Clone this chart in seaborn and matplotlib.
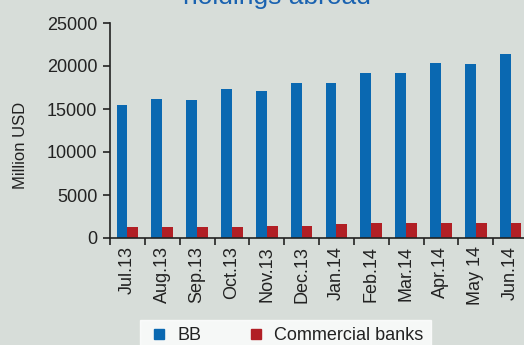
import matplotlib
matplotlib.use("Agg")
import matplotlib.pyplot as plt
import seaborn as sns
import pandas as pd
import numpy as np
from matplotlib.lines import Line2D

months = ["Jul.13", "Aug.13", "Sep.13", "Oct.13", "Nov.13", "Dec.13",
          "Jan.14", "Feb.14", "Mar.14", "Apr.14", "May 14", "Jun.14"]
bb = [15450, 16150, 16050, 17330, 17100, 18020, 18020, 19190, 19190, 20350, 20230, 21400]
commercial = [1280, 1280, 1280, 1280, 1400, 1400, 1630, 1750, 1750, 1750, 1750, 1750]
series = ["BB", "Commercial banks"]
colors = ["#0a68b1", "#b11f25"]
yticks = [0, 5000, 10000, 15000, 20000, 25000]

df = pd.DataFrame({
    "month": months * 2,
    "value": bb + commercial,
    "series": [series[0]] * len(months) + [series[1]] * len(months),
})

sns.set_theme(style="ticks")
plt.rcParams['font.family'] = ['Liberation Sans', 'DejaVu Sans']
bg = "#d7ddd9"

fig = plt.figure(figsize=(5.24, 3.45), dpi=100, facecolor=bg)
ax = fig.add_axes([110/524, 1-238/345, 418/524, 215/345])
ax.set_facecolor(bg)

sns.barplot(data=df, x="month", y="value", hue="series", order=months,
            hue_order=series, palette=colors, width=0.62, saturation=1,
            dodge=True, ax=ax, legend=False, linewidth=0, edgecolor="none")

ax.set_xlim(-0.5, len(months) - 0.5)
ax.set_ylim(0, 25000)
ax.set_yticks(yticks)
ax.set_yticklabels([str(v) for v in yticks], fontsize=13, color="#222222")
ax.set_xticks(range(len(months)))
ax.set_xticklabels(months, rotation=90, fontsize=13, color="#222222")
ax.tick_params(axis="x", length=0, pad=6)
ax.set_xticks(np.arange(-0.5, len(months), 1.0), minor=True)
ax.tick_params(axis="x", which="minor", length=5, width=1.2, color="#222222", direction="out")
ax.tick_params(axis="y", length=5, width=1.2, color="#222222", direction="out", pad=4)
for s in ["top", "right"]:
    ax.spines[s].set_visible(False)
for s in ["left", "bottom"]:
    ax.spines[s].set_color("#222222")
    ax.spines[s].set_linewidth(1.2)
ax.set_xlabel("")
ax.set_ylabel("Million USD", fontsize=12, color="#222222")
ax.yaxis.set_label_coords(-0.196, 0.43)

fig.text(277/524, 1-4/345, "holdings abroad", ha="center", va="baseline",
         fontsize=19, color="#1a62b0")

handles = [Line2D([], [], marker="s", linestyle="none", markersize=7.5,
                  markerfacecolor=c, markeredgecolor=c) for c in colors]
leg = fig.legend(handles, series, loc="upper left", bbox_to_anchor=(140/524, 1-320/345),
                 ncol=2, frameon=True, fancybox=False, fontsize=13,
                 handlelength=1.3, handletextpad=0.35, columnspacing=2.4,
                 borderaxespad=0, borderpad=0.4)
leg.get_frame().set_facecolor("white")
leg.get_frame().set_edgecolor("white")
for t in leg.get_texts():
    t.set_color("#222222")

fig.savefig("out.png", dpi=100, facecolor=bg)
